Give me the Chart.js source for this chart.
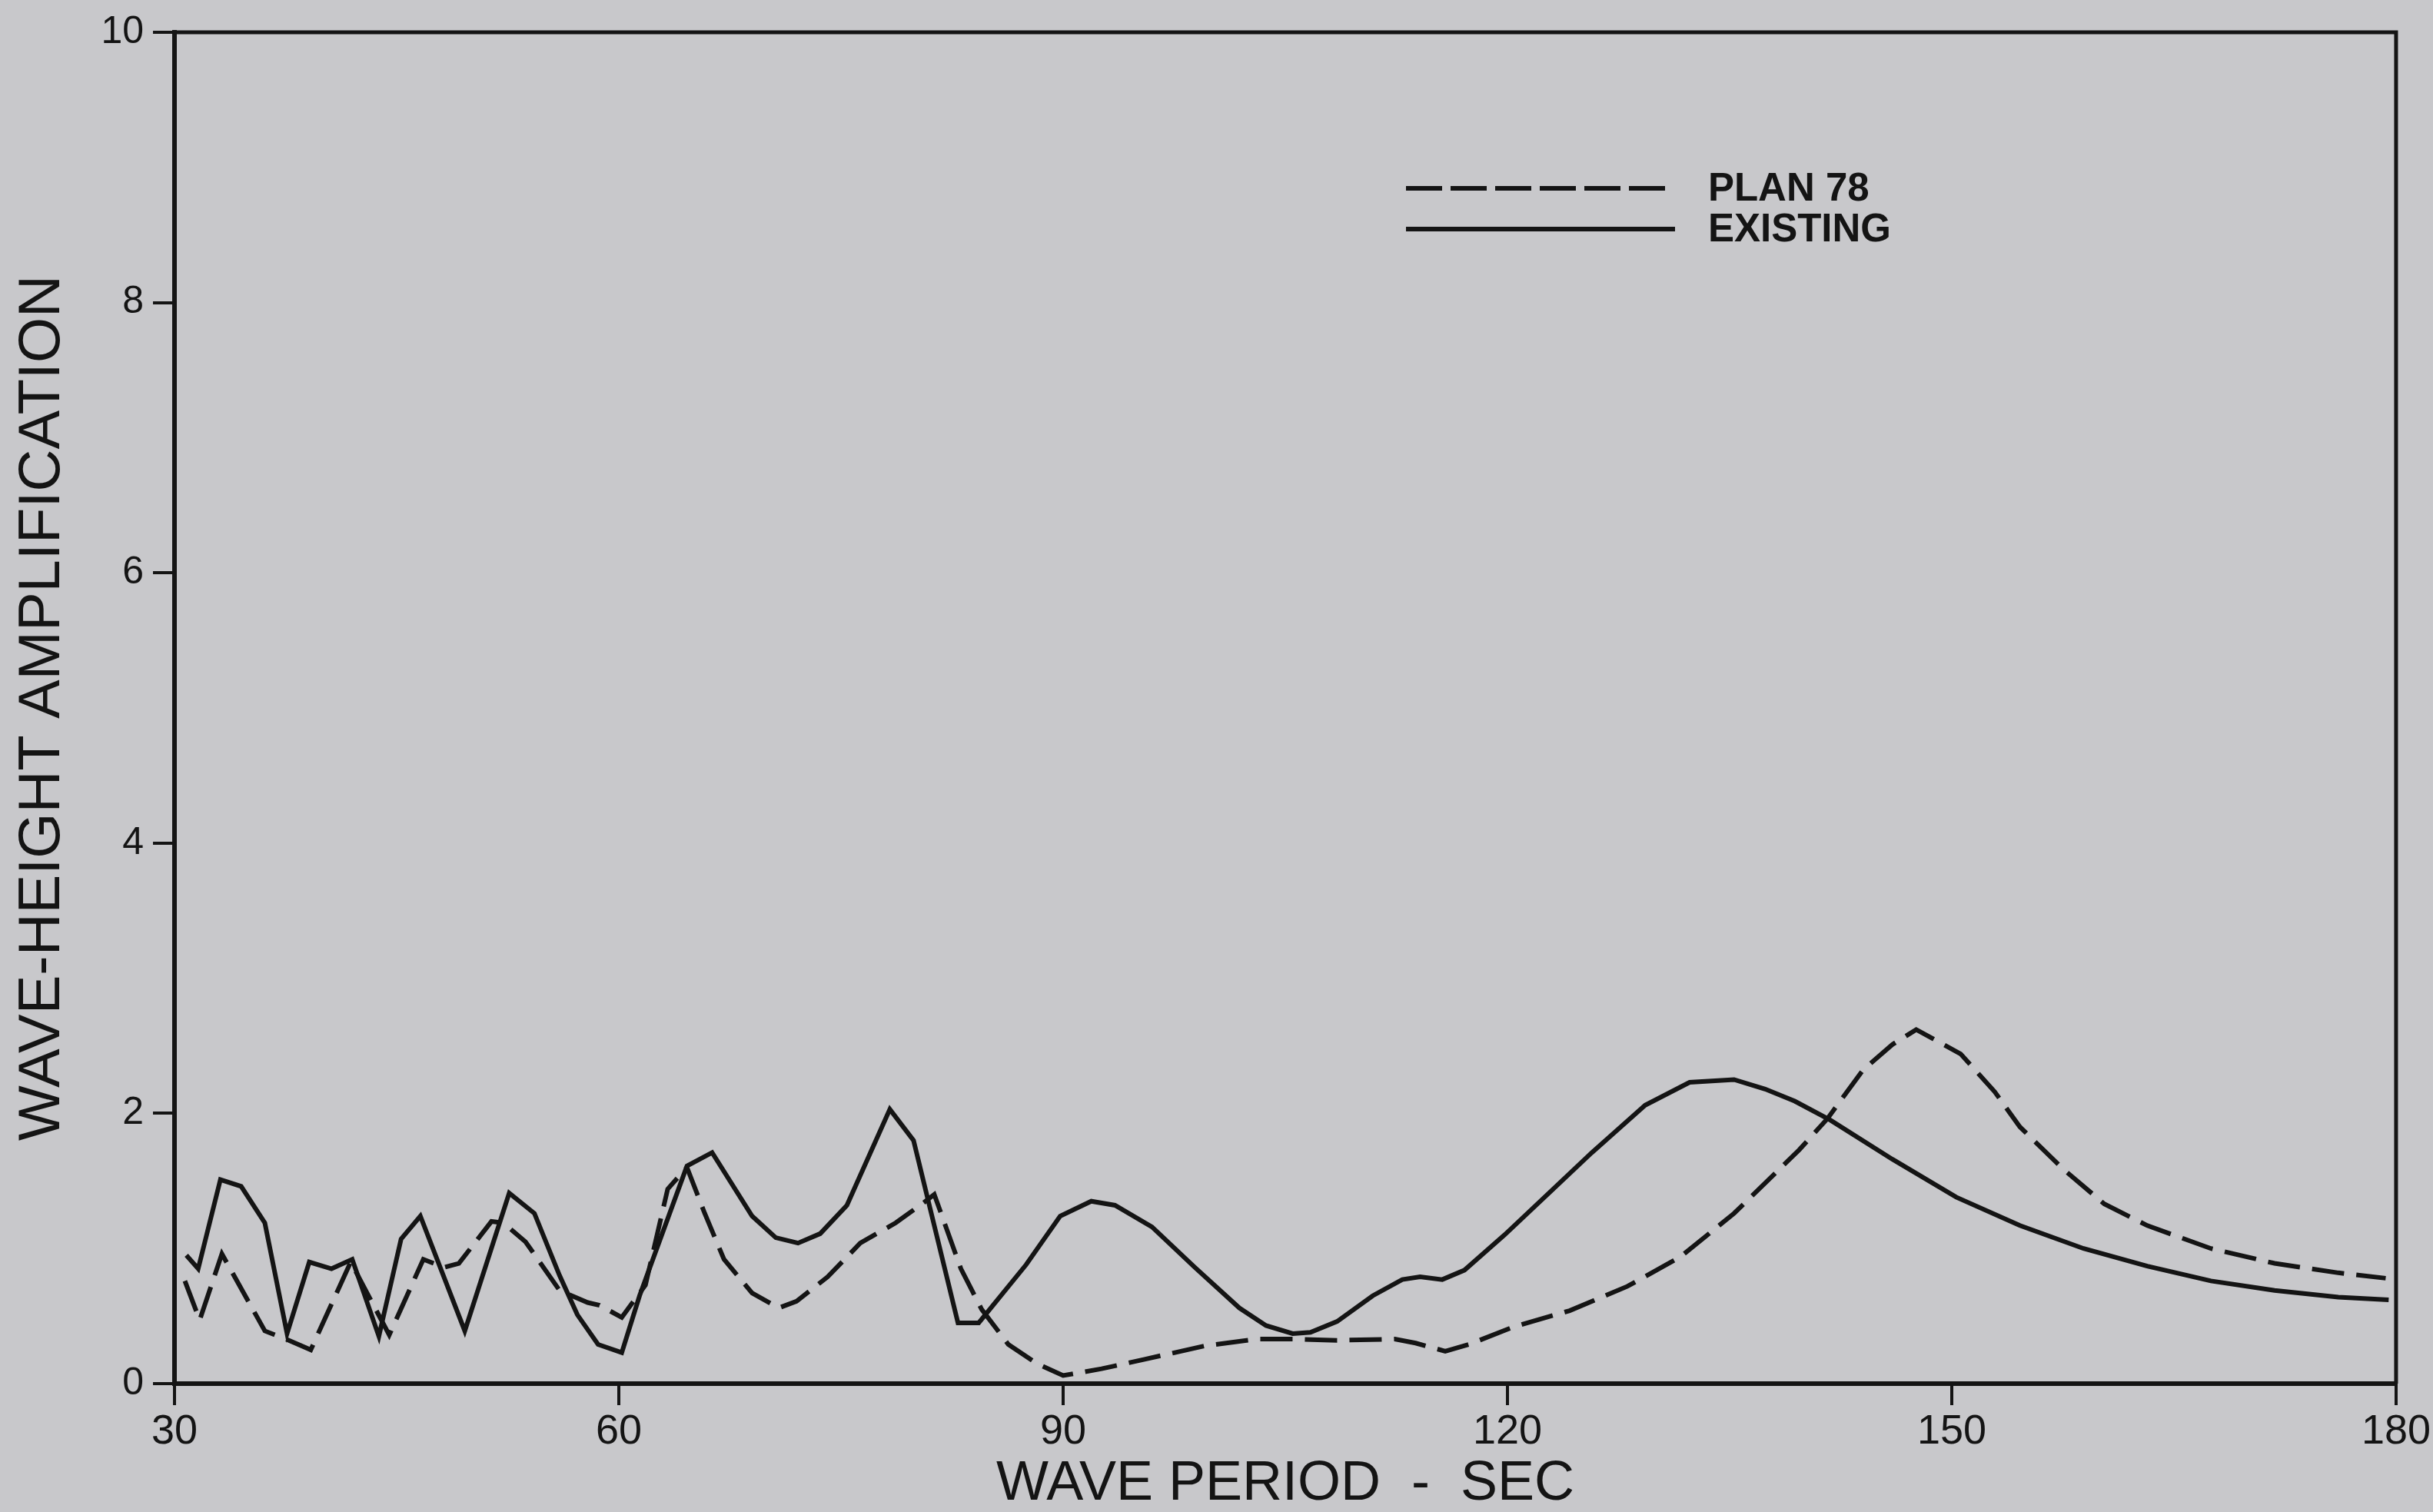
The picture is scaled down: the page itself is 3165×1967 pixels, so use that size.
<!DOCTYPE html>
<html><head><meta charset="utf-8">
<script src="https://cdn.jsdelivr.net/npm/chart.js@4"></script>
<style>html,body{margin:0;padding:0;background:#c8c8cb;} canvas{display:block;}</style>
</head><body>
<canvas id="c" width="3165" height="1967"></canvas>
<script>
// WAVE PERIOD (sec) / WAVE-HEIGHT AMPLIFICATION
const periodExisting = [30.8,31.6,33.1,34.5,36.1,37.6,39.1,40.6,42.0,43.8,45.3,46.6,49.6,52.6,54.3,56.0,57.2,58.6,60.2,61.4,64.6,66.3,69.0,70.6,72.1,73.6,75.4,78.3,79.9,82.9,84.3,87.5,89.8,91.9,93.5,96.0,98.9,101.9,103.7,105.5,106.7,108.5,110.9,112.9,114.1,115.6,117.1,119.8,122.8,125.7,129.3,132.3,135.3,137.4,139.4,141.8,146.0,150.3,154.6,158.9,163.2,167.5,171.8,176.1,179.5];
const ampExisting    = [0.95,0.85,1.51,1.46,1.19,0.37,0.90,0.85,0.92,0.35,1.07,1.24,0.39,1.41,1.26,0.80,0.51,0.29,0.23,0.65,1.61,1.71,1.24,1.08,1.04,1.11,1.32,2.03,1.80,0.45,0.45,0.88,1.24,1.35,1.32,1.16,0.86,0.56,0.43,0.37,0.38,0.46,0.65,0.77,0.79,0.77,0.84,1.10,1.41,1.71,2.06,2.23,2.25,2.18,2.09,1.95,1.66,1.38,1.17,1.00,0.87,0.76,0.69,0.64,0.62];
const periodPlan = [30.7,31.7,33.2,36.1,37.5,39.2,41.9,44.5,46.8,48.2,49.2,51.4,52.2,53.7,56.0,57.9,58.7,60.2,61.8,63.3,64.6,65.8,67.1,69.0,70.8,72.0,74.1,76.3,78.7,80.6,81.3,83.1,84.5,86.3,88.2,90.0,92.6,95.5,99.6,103.1,105.5,108.5,112.4,113.8,115.8,117.4,120.4,124.2,128.1,131.7,135.3,138.2,139.7,141.6,144.0,146.0,147.6,150.6,152.9,154.6,157.5,160.3,163.2,167.5,171.8,176.1,179.3];
const ampPlan    = [0.76,0.47,0.96,0.39,0.33,0.25,0.90,0.36,0.92,0.86,0.89,1.20,1.19,1.05,0.69,0.60,0.58,0.49,0.73,1.44,1.60,1.26,0.92,0.67,0.56,0.61,0.79,1.04,1.19,1.34,1.40,0.85,0.55,0.29,0.15,0.06,0.11,0.18,0.28,0.33,0.33,0.32,0.33,0.30,0.24,0.29,0.42,0.54,0.72,0.94,1.26,1.57,1.73,1.96,2.32,2.51,2.62,2.44,2.16,1.90,1.59,1.33,1.17,1.00,0.89,0.82,0.78];
const xTickValues = [30,60,90,120,150,180];
const yTickValues = [0,2,4,6,8,10];
const seriesNames = ['PLAN 78','EXISTING'];
const xTitle = 'WAVE PERIOD  -  SEC';
const yTitle = 'WAVE-HEIGHT AMPLIFICATION';

const INK = '#141414';
const FONT = '"Liberation Sans", Arial, sans-serif';
const pairs = (xs, ys) => xs.map((x, i) => ({x, y: ys[i]}));

const framePlugin = {
  id: 'frame',
  afterDraw(chart) {
    const {ctx, chartArea: a} = chart;
    ctx.save();
    ctx.strokeStyle = INK; ctx.lineWidth = 5;
    ctx.beginPath();
    ctx.moveTo(a.left, a.top); ctx.lineTo(a.right, a.top); ctx.lineTo(a.right, a.bottom);
    ctx.stroke();
    ctx.restore();
  }
};

const legendPlugin = {
  id: 'inlineLegend',
  afterDatasetsDraw(chart) {
    const {ctx} = chart;
    const rows = [{y: 245, x2: 2168}, {y: 298, x2: 2179}];
    ctx.save();
    chart.data.datasets.forEach((ds, i) => {
      const r = rows[i];
      ctx.strokeStyle = INK; ctx.lineWidth = 6;
      ctx.setLineDash(ds.borderDash && ds.borderDash.length ? [47, 11] : []);
      ctx.beginPath(); ctx.moveTo(1829, r.y); ctx.lineTo(r.x2, r.y); ctx.stroke();
      ctx.setLineDash([]);
      ctx.save();
      ctx.translate(2222, r.y);
      ctx.scale(0.98, 1);
      ctx.fillStyle = INK;
      ctx.font = 'bold 52px ' + FONT;
      ctx.textBaseline = 'middle';
      ctx.textAlign = 'left';
      ctx.fillText(ds.label, 0, 2);
      ctx.restore();
    });
    ctx.restore();
  }
};

new Chart(document.getElementById('c'), {
  type: 'line',
  data: {
    datasets: [
      {label: seriesNames[0], data: pairs(periodPlan, ampPlan), borderColor: INK, borderWidth: 6, borderDash: [42, 16], pointRadius: 0, tension: 0, fill: false},
      {label: seriesNames[1], data: pairs(periodExisting, ampExisting), borderColor: INK, borderWidth: 6, pointRadius: 0, tension: 0, fill: false}
    ]
  },
  options: {
    responsive: false,
    animation: false,
    devicePixelRatio: 1,
    layout: {padding: {top: 37, right: 44, left: 0, bottom: 0}},
    plugins: {legend: {display: false}, tooltip: {enabled: false}},
    scales: {
      x: {
        type: 'linear', min: 30, max: 180,
        afterBuildTicks: s => { s.ticks = xTickValues.map(v => ({value: v})); },
        afterFit: s => { s.height = 167; },
        grid: {drawOnChartArea: false, drawTicks: true, tickLength: 28, color: INK, lineWidth: 4},
        border: {display: true, color: INK, width: 6},
        ticks: {color: INK, font: {family: FONT, size: 54}, padding: 3, maxRotation: 0},
        title: {display: true, text: xTitle, color: INK, font: {family: FONT, size: 72, lineHeight: 1.0}, padding: {top: 0, bottom: 0}}
      },
      y: {
        type: 'linear', min: 0, max: 10,
        afterBuildTicks: s => { s.ticks = yTickValues.map(v => ({value: v})); },
        afterFit: s => { s.width = 227; },
        grid: {drawOnChartArea: false, drawTicks: true, tickLength: 28, color: INK, lineWidth: 4},
        border: {display: true, color: INK, width: 6},
        ticks: {color: INK, font: {family: FONT, size: 50}, padding: 12},
        title: {display: true, text: yTitle, color: INK, font: {family: FONT, size: 76, lineHeight: 1.2}, padding: {top: 10, bottom: 0}}
      }
    }
  },
  plugins: [framePlugin, legendPlugin]
});
</script>
</body></html>
